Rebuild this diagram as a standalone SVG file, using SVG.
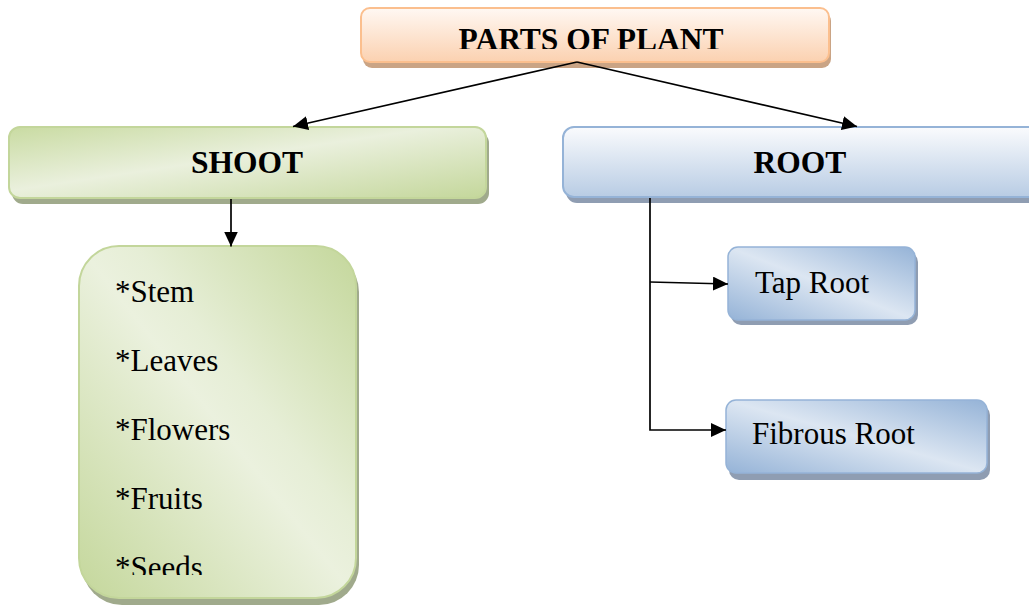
<svg xmlns="http://www.w3.org/2000/svg" width="1029" height="606" viewBox="0 0 1029 606">
<defs>
<style>
.bold{font-family:"Liberation Serif","Times New Roman",serif;font-weight:bold;font-size:31.5px;fill:#000}
.reg{font-family:"Liberation Serif","Times New Roman",serif;font-size:31px;fill:#000}
.conn{stroke:#000;stroke-width:1.7;fill:none}
</style>
<linearGradient id="gPeach" x1="0" y1="0" x2="0" y2="1">
<stop offset="0" stop-color="#fff8f3"/>
<stop offset="1" stop-color="#fbd1b0"/>
</linearGradient>
<linearGradient id="gGreen" x1="0" y1="0" x2="1" y2="1">
<stop offset="0" stop-color="#c9dba2"/>
<stop offset="0.45" stop-color="#eaf0dd"/>
<stop offset="1" stop-color="#c4d79b"/>
</linearGradient>
<linearGradient id="gGreen2" x1="0" y1="1" x2="1" y2="0">
<stop offset="0" stop-color="#c4d79b"/>
<stop offset="0.5" stop-color="#ebf1de"/>
<stop offset="0.6" stop-color="#e6eed6"/>
<stop offset="1" stop-color="#c4d79b"/>
</linearGradient>
<linearGradient id="gBlue" x1="0" y1="0" x2="0" y2="1">
<stop offset="0" stop-color="#fafbfd"/>
<stop offset="1" stop-color="#b8cce4"/>
</linearGradient>
<linearGradient id="gBlue2" x1="0" y1="1" x2="1" y2="0">
<stop offset="0" stop-color="#95b3d7"/>
<stop offset="0.5" stop-color="#dce6f2"/>
<stop offset="1" stop-color="#95b3d7"/>
</linearGradient>
<clipPath id="clipTop"><rect x="361" y="8" width="470" height="41"/></clipPath>
<clipPath id="clipList"><rect x="79" y="246" width="280" height="329"/></clipPath>
<marker id="ahL" viewBox="0 0 10 10" refX="10" refY="5" markerWidth="15" markerHeight="14" markerUnits="userSpaceOnUse" orient="auto" preserveAspectRatio="none">
<path d="M0,0 L10,5 L0,10 z" fill="#000"/>
</marker>
</defs>
<rect width="1029" height="606" fill="#fff"/>

<g id="node-parts">
<rect x="363" y="12" width="468" height="56" rx="9" fill="#caa485"/>
<rect x="361" y="8" width="468" height="54" rx="9" fill="url(#gPeach)" stroke="#fbbf8e" stroke-width="2"/>
<text class="bold" x="591" y="50" text-anchor="middle" clip-path="url(#clipTop)">PARTS OF PLANT</text>
</g>

<g id="node-shoot">
<rect x="12" y="132" width="477" height="72" rx="11" fill="#a0aa8c"/>
<rect x="9" y="127" width="477" height="71" rx="11" fill="url(#gGreen)" stroke="#c3d69b" stroke-width="2"/>
<text class="bold" x="247" y="173" text-anchor="middle">SHOOT</text>
</g>

<g id="node-list">
<rect x="82" y="252" width="277" height="353" rx="40" fill="#a0aa8c"/>
<rect x="79" y="246" width="277" height="352" rx="40" fill="url(#gGreen2)" stroke="#c3d69b" stroke-width="2"/>
<g clip-path="url(#clipList)">
<text class="reg" x="115" y="302">*Stem</text>
<text class="reg" x="115" y="371">*Leaves</text>
<text class="reg" x="115" y="440">*Flowers</text>
<text class="reg" x="115" y="509">*Fruits</text>
<text class="reg" x="115" y="578">*Seeds</text>
</g>
</g>

<g id="node-root">
<rect x="566" y="132" width="480" height="71" rx="11" fill="#8f9db2"/>
<rect x="563" y="127" width="480" height="70" rx="11" fill="url(#gBlue)" stroke="#95b3d7" stroke-width="2"/>
<text class="bold" x="800" y="173" text-anchor="middle">ROOT</text>
</g>

<g id="node-taproot">
<rect x="731" y="252" width="187" height="73" rx="10" fill="#8f9db2"/>
<rect x="728" y="247" width="187" height="73" rx="10" fill="url(#gBlue2)" stroke="#95b3d7" stroke-width="1.5"/>
<text class="reg" x="755" y="293">Tap Root</text>
</g>

<g id="node-fibrous">
<rect x="729" y="405" width="261" height="75" rx="10" fill="#8f9db2"/>
<rect x="726" y="400" width="261" height="73" rx="10" fill="url(#gBlue2)" stroke="#95b3d7" stroke-width="1.5"/>
<text class="reg" x="752" y="444">Fibrous Root</text>
</g>

<g id="connectors">
<line class="conn" x1="577" y1="62" x2="293" y2="126.5" marker-end="url(#ahL)"/>
<line class="conn" x1="577" y1="62" x2="857" y2="126.5" marker-end="url(#ahL)"/>
<line class="conn" x1="231" y1="199" x2="231" y2="246.5" marker-end="url(#ahL)"/>
<polyline class="conn" points="650,198 650,430 726,430" marker-end="url(#ahL)"/>
<line class="conn" x1="650" y1="282" x2="728" y2="284" marker-end="url(#ahL)"/>
</g>
</svg>
